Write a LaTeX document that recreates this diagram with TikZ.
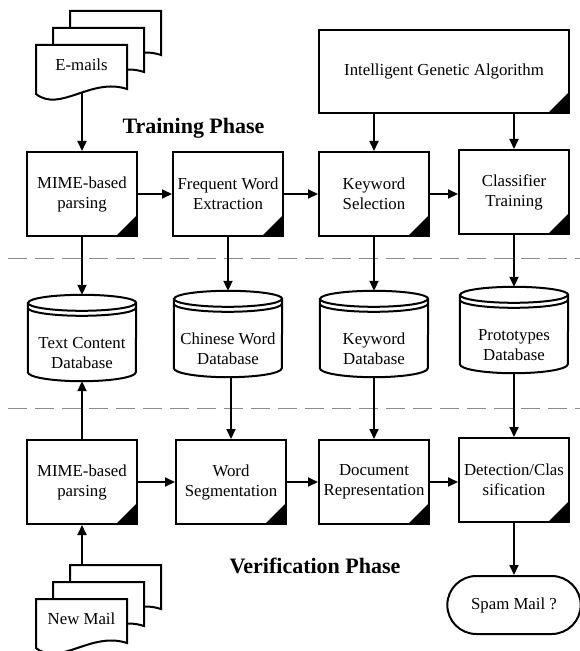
\documentclass[tikz,border=0pt]{standalone}
\usepackage{fontspec}
\setmainfont{Liberation Serif}
\usetikzlibrary{arrows.meta,shapes.misc}
\newcommand\mainfs{\fontsize{16.8bp}{20bp}\selectfont}
\newcommand\phasefs{\fontsize{22bp}{26bp}\selectfont\bfseries}
\newcommand\docpage[2]{\draw[ln,fill=white] (#1,#2) -- (#1+91,#2) -- (#1+91,#2+44) .. controls (#1+55,#2+32) and (#1+24,#2+68) .. (#1,#2+49) -- cycle;}
\tikzset{
  ln/.style={line width=2bp},
  arr/.style={ln,-{Triangle[length=10bp,width=9bp]}},
  procbox/.style={draw,ln,fill=white,minimum width=110bp,minimum height=84bp,inner sep=2bp,align=center,font=\mainfs,
    path picture={\fill[black] (path picture bounding box.south east) -- ++(-21bp,0) -- ++(21bp,21bp) -- cycle;}},
  dbbox/.style={minimum width=108bp,minimum height=86bp,inner sep=0pt},
  dbtext/.style={align=center,font=\mainfs,inner sep=1bp},
  doctext/.style={font=\mainfs,inner sep=1bp},
  phase/.style={font=\phasefs,inner sep=1bp},
  dashln/.style={draw=black!45,line width=1bp,dash pattern=on 19bp off 8bp},
  term/.style={draw,ln,fill=white,shape=rounded rectangle,minimum width=140bp,minimum height=58bp,font=\mainfs}
}
\begin{document}
\begin{tikzpicture}[x=1bp,y=-1bp]
\useasboundingbox (0,0) rectangle (580,651);
% separators
\draw[dashln] (8,258.5) -- (580,258.5);
\draw[dashln] (8,408.5) -- (580,408.5);
% E-mails stack
\docpage{70}{11}
\docpage{53}{28}
\docpage{36}{45}
\node[doctext] (emails) at (81.5,65) {E-mails};
\coordinate (emb) at (82,92.5);
% New Mail stack
\docpage{70}{565}
\docpage{53}{582}
\docpage{36}{599}
\node[doctext] (newmail) at (81.5,619) {New Mail};
\coordinate (nmt) at (82,565);
% phase titles
\node[phase] (train) at (193.5,128) {Training Phase};
\node[phase] (verif) at (315,566) {Verification Phase};
% training row
\node[procbox,minimum width=250bp,minimum height=83bp] (iga) at (444,71.5) {Intelligent Genetic Algorithm};
\node[procbox] (mime1) at (82,194) {MIME-based\\parsing};
\node[procbox] (freq) at (228,194) {Frequent Word\\Extraction};
\node[procbox] (kws) at (374,194) {Keyword\\Selection};
\node[procbox] (clt) at (514,192) {Classifier\\Training};
% databases
\node[dbbox] (tdb) at (82,338) {};
\node[dbbox] (cdb) at (228,334) {};
\node[dbbox] (kdb) at (374,334) {};
\node[dbbox] (pdb) at (514,330) {};
\foreach \n in {tdb,cdb,kdb,pdb}{
  \draw[ln,fill=white] ([yshift=-8bp]\n.north west) -- ([yshift=9bp]\n.south west)
     arc[start angle=180,end angle=360,x radius=54bp,y radius=9bp]
     -- ([yshift=-8bp]\n.north east)
     arc[start angle=0,end angle=180,x radius=54bp,y radius=8bp] -- cycle;
  \draw[ln] ([yshift=-8bp]\n.north west) arc[start angle=180,end angle=360,x radius=54bp,y radius=8bp];
  \draw[ln] ([yshift=-13bp]\n.north west) arc[start angle=180,end angle=360,x radius=54bp,y radius=8bp];
}
\node[dbtext] (tdbt) at ([yshift=-15bp]tdb.center) {Text Content\\Database};
\node[dbtext] (cdbt) at ([yshift=-15bp]cdb.center) {Chinese Word\\Database};
\node[dbtext] (kdbt) at ([yshift=-15bp]kdb.center) {Keyword\\Database};
\node[dbtext] (pdbt) at ([yshift=-15bp]pdb.center) {Prototypes\\Database};
% verification row
\node[procbox] (mime2) at (82,482) {MIME-based\\parsing};
\node[procbox] (ws) at (231,482) {Word\\Segmentation};
\node[procbox] (dr) at (374,482) {Document\\Representation};
\node[procbox] (det) at (514,480) {Detection/Clas\\sification};
\node[term] (spam) at (514,605) {Spam Mail ?};
% connectors
\draw[arr] (emb) -- (emb |- mime1.north);
\draw[arr] (mime1.east) -- (mime1.east -| freq.west);
\draw[arr] (freq.east) -- (freq.east -| kws.west);
\draw[arr] (kws.east) -- (kws.east -| clt.west);
\draw[arr] (iga.south -| kws.north) -- (kws.north);
\draw[arr] (iga.south -| clt.north) -- (clt.north);
\draw[arr] (mime1.south) -- (mime1.south |- tdb.north);
\draw[arr] (freq.south) -- (freq.south |- cdb.north);
\draw[arr] (kws.south) -- (kws.south |- kdb.north);
\draw[arr] (clt.south) -- (clt.south |- pdb.north);
\draw[arr] (mime2.north) -- (mime2.north |- tdb.south);
\draw[arr] (cdb.south -| ws.north) -- (ws.north);
\draw[arr] (kdb.south -| dr.north) -- (dr.north);
\draw[arr] (pdb.south -| det.north) -- (det.north);
\draw[arr] (nmt) -- (nmt |- mime2.south);
\draw[arr] (mime2.east) -- (mime2.east -| ws.west);
\draw[arr] (ws.east) -- (ws.east -| dr.west);
\draw[arr] (dr.east) -- (dr.east -| det.west);
\draw[arr] (det.south -| spam.north) -- (spam.north);
\end{tikzpicture}
\end{document}
